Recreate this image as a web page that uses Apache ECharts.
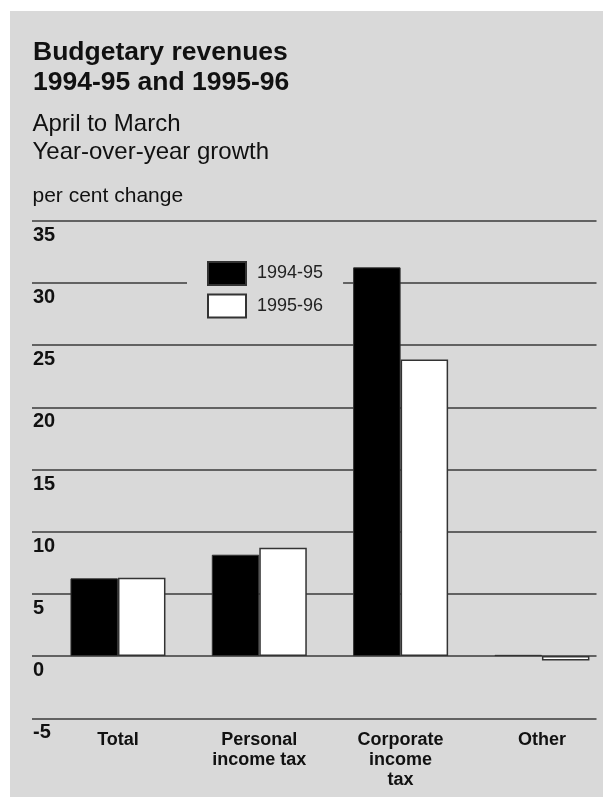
<!DOCTYPE html>
<html>
<head>
<meta charset="utf-8">
<script src="https://cdn.jsdelivr.net/npm/echarts@6/dist/echarts.min.js"></script>
<style>
html,body{margin:0;padding:0;background:#fff;}
#chart{width:605px;height:798px;}
</style>
</head>
<body>
<div id="chart"></div>
<script>
const categories = ['Total', 'Personal\nincome tax', 'Corporate\nincome\ntax', 'Other'];
const seriesNames = ['1994-95', '1995-96'];
const values9495 = [6.25, 8.15, 31.25, 0.1];
const values9596 = [6.3, 8.7, 23.85, -0.35];
const yMin = -5, yMax = 35, yInterval = 5;
const titleLines = ['Budgetary revenues', '1994-95 and 1995-96'];
const subtitleLines = ['April to March', 'Year-over-year growth'];
const unitLabel = 'per cent change';

const FONT = '"Liberation Sans", Arial, Helvetica, sans-serif';
const chart = echarts.init(document.getElementById('chart'));
const gridTop = 220.7, gridHeight = 497.6;

chart.setOption({
  backgroundColor: '#ffffff',
  animation: false,
  graphic: [
    { type: 'rect', shape: { x: 10, y: 11, width: 593, height: 786 }, style: { fill: '#d9d9d9' }, z: -10, silent: true },
    { type: 'text', x: 33, y: 52.3, z: 10, style: { text: titleLines[0], fill: '#111', font: 'bold 26.5px ' + FONT, verticalAlign: 'middle' } },
    { type: 'text', x: 33, y: 82.6, z: 10, style: { text: titleLines[1], fill: '#111', font: 'bold 26.5px ' + FONT, verticalAlign: 'middle' } },
    { type: 'text', x: 32.5, y: 124.7, z: 10, style: { text: subtitleLines[0], fill: '#111', font: '24px ' + FONT, verticalAlign: 'middle' } },
    { type: 'text', x: 32.5, y: 152.1, z: 10, style: { text: subtitleLines[1], fill: '#111', font: '24px ' + FONT, verticalAlign: 'middle' } },
    { type: 'text', x: 32.5, y: 196.4, z: 10, style: { text: unitLabel, fill: '#111', font: '21px ' + FONT, verticalAlign: 'middle' } }
  ],
  legend: {
    orient: 'vertical',
    left: 187, top: 251,
    padding: [10, 20, 10, 20],
    backgroundColor: '#d9d9d9',
    itemWidth: 38, itemHeight: 23, itemGap: 7.4,
    icon: 'rect',
    data: seriesNames,
    textStyle: { fontFamily: FONT, fontSize: 18, color: '#222', padding: [0, 0, 0, 6] },
    z: 5
  },
  grid: [
    { left: 32, right: 8.5, top: gridTop, height: gridHeight, outerBoundsMode: 'none', containLabel: false },
    { left: 47.3, width: 565.3, top: gridTop, height: gridHeight, outerBoundsMode: 'none', containLabel: false }
  ],
  xAxis: [
    { gridIndex: 0, type: 'category', data: categories, show: false },
    { gridIndex: 1, type: 'category', data: categories,
      axisLine: { show: false }, axisTick: { show: false }, splitLine: { show: false },
      axisLabel: { interval: 0, margin: 12, fontFamily: FONT, fontSize: 18, fontWeight: 'bold', color: '#111', lineHeight: 20, align: 'center' } }
  ],
  yAxis: [
    { gridIndex: 0, type: 'value', min: yMin, max: yMax, interval: yInterval,
      axisLine: { show: false }, axisTick: { show: false },
      splitLine: { show: true, lineStyle: { color: '#3a3a3a', width: 1.5 } },
      axisLabel: { inside: true, margin: 1, align: 'left', verticalAlign: 'top', lineHeight: 29,
        fontFamily: FONT, fontSize: 20, fontWeight: 'bold', color: '#111', showMinLabel: true, showMaxLabel: true } },
    { gridIndex: 1, type: 'value', min: yMin, max: yMax, interval: yInterval, show: false, splitLine: { show: false } }
  ],
  series: [
    { name: seriesNames[0], type: 'bar', xAxisIndex: 1, yAxisIndex: 1, data: values9495,
      barWidth: 47.5, barGap: '0%',
      itemStyle: { color: '#000', borderColor: '#333', borderWidth: 1 } },
    { name: seriesNames[1], type: 'bar', xAxisIndex: 1, yAxisIndex: 1, data: values9596,
      barWidth: 47.5, barGap: '0%',
      itemStyle: { color: '#fff', borderColor: '#333', borderWidth: 1.5 } }
  ]
});
</script>
</body>
</html>
